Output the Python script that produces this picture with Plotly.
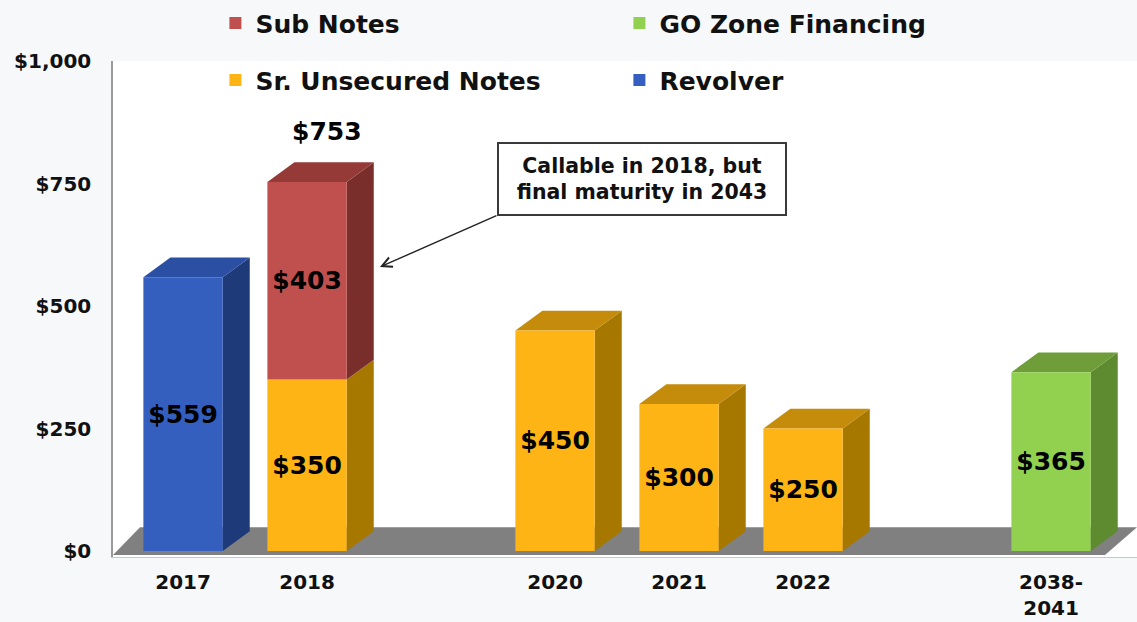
import plotly.graph_objects as go

# ---------------- data ----------------
categories = ["2017", "2018", "", "2020", "2021", "2022", "", "2038-<br>2041"]
revolver = [559, None, None, None, None, None, None, None]
sr_unsecured = [None, 350, None, 450, 300, 250, None, None]
sub_notes = [None, 403, None, None, None, None, None, None]
go_zone = [None, None, None, None, None, None, None, 365]
y_ticks = [0, 250, 500, 750, 1000]
y_tick_labels = [f"${v:,}" for v in y_ticks]
callout_text = "Callable in 2018, but<br>final maturity in 2043"

# ---------------- styling ----------------
FONT = "DejaVu Sans"
series = [
    # name, values, front, side, top, legend, rank
    ("Revolver", revolver, "#345FBE", "#1F3A78", "#2B4FA3", "legend2", 2),
    ("Sr. Unsecured Notes", sr_unsecured, "#FDB414", "#A67800", "#C48C0A", "legend2", 1),
    ("Sub Notes", sub_notes, "#C0504D", "#7A2E2C", "#953A37", "legend", 1),
    ("GO Zone Financing", go_zone, "#92D050", "#5E8B30", "#6E9D3A", "legend", 2),
]

W, H = 1137, 622
M_L, M_R, M_T, M_B = 113, 0, 55, 65
PLOT_W = W - M_L - M_R
PLOT_H = H - M_T - M_B
BAR_W = 0.64
SLOT_PX = 124
X_RANGE = [-0.565, -0.565 + PLOT_W / SLOT_PX]
Y_RANGE = [-12, 1000]
PX_PER_Y = PLOT_H / (Y_RANGE[1] - Y_RANGE[0])
DX = 27 / SLOT_PX      # depth offset in x units
DY = 20 / PX_PER_Y     # depth offset in y units

x_pos = list(range(len(categories)))

fig = go.Figure()
shapes = []

# floor
floor_front = -8
floor_back = floor_front + 28 / PX_PER_Y
fx0, fx1 = X_RANGE[0], X_RANGE[1] - 32 / SLOT_PX
shapes.append(dict(
    type="path", xref="x", yref="y", layer="below",
    path=(f"M{fx0},{floor_front} L{fx1},{floor_front} L{X_RANGE[1]},{floor_back} "
          f"L{fx0 + 27 / SLOT_PX},{floor_back} Z"),
    fillcolor="#808080", line=dict(width=0)))

base_acc = [0.0] * len(categories)
tops = [None] * len(categories)
top_color = [None] * len(categories)

for name, vals, front, side, top, leg, rank in series:
    bases = []
    for i, v in enumerate(vals):
        bases.append(base_acc[i])
        if v is not None:
            b = base_acc[i]
            t = b + v
            x1 = x_pos[i] + BAR_W / 2
            shapes.append(dict(
                type="path", xref="x", yref="y", layer="below",
                path=(f"M{x1},{b} L{x1 + DX},{b + DY} L{x1 + DX},{t + DY} L{x1},{t} Z"),
                fillcolor=side, line=dict(width=0)))
            base_acc[i] = t
            tops[i] = t
            top_color[i] = top
    fig.add_trace(go.Bar(
        name=name, x=x_pos, y=vals, base=bases, width=BAR_W,
        marker=dict(color=front, line=dict(width=0)),
        texttemplate="$%{y:.0f}", textposition="inside",
        insidetextanchor="middle", textangle=0, constraintext="none",
        textfont=dict(family=FONT, size=25, color="#000000", weight="bold"),
        legend=leg, legendrank=rank, hoverinfo="skip",
    ))

# top faces
for i, t in enumerate(tops):
    if t is None:
        continue
    x0 = x_pos[i] - BAR_W / 2
    x1 = x_pos[i] + BAR_W / 2
    shapes.append(dict(
        type="path", xref="x", yref="y", layer="below",
        path=(f"M{x0},{t} L{x0 + DX},{t + DY} L{x1 + DX},{t + DY} L{x1},{t} Z"),
        fillcolor=top_color[i], line=dict(width=0)))

annotations = []
i2018 = categories.index("2018")
total_2018 = sr_unsecured[i2018] + sub_notes[i2018]
annotations.append(dict(
    x=i2018 + DX / 2 + 0.05, y=total_2018 + DY, xref="x", yref="y",
    text=f"${total_2018}", showarrow=False, yanchor="bottom", yshift=14,
    font=dict(family=FONT, size=25, color="#000000", weight="bold")))

annotations.append(dict(
    x=3.7, y=760, xref="x", yref="y", text=callout_text, showarrow=False,
    font=dict(family=FONT, size=20.5, color="#111111", weight="bold"),
    bgcolor="#ffffff", bordercolor="#3a3a3a", borderwidth=2, borderpad=7,
    width=272, height=56, align="center"))

arrow_x = i2018 + BAR_W / 2 + DX + 0.05
arrow_y = sr_unsecured[i2018] + sub_notes[i2018] * 0.57
annotations.append(dict(
    x=arrow_x, y=arrow_y, xref="x", yref="y", text="", showarrow=True,
    ax=118, ay=-52, arrowhead=5, arrowsize=1.4, arrowwidth=1.4,
    arrowcolor="#222222", standoff=0))

legend_font = dict(family=FONT, size=25, color="#111111", weight="bold")
fig.update_layout(
    width=W, height=H,
    margin=dict(l=M_L, r=M_R, t=M_T, b=M_B),
    paper_bgcolor="#f6f8fa", plot_bgcolor="#ffffff",
    barmode="overlay",
    font=dict(family=FONT, color="#111111", weight="bold"),
    shapes=shapes, annotations=annotations,
    showlegend=True,
    legend=dict(orientation="h", x=0.1, xanchor="left", y=1.076, yanchor="middle",
                entrywidth=359, entrywidthmode="pixels", bgcolor="rgba(0,0,0,0)",
                font=legend_font, traceorder="normal"),
    legend2=dict(orientation="h", x=0.1, xanchor="left", y=0.961, yanchor="middle",
                 entrywidth=359, entrywidthmode="pixels", bgcolor="rgba(0,0,0,0)",
                 font=legend_font, traceorder="normal"),
    xaxis=dict(range=X_RANGE, tickvals=x_pos, ticktext=categories,
               showgrid=False, zeroline=False, showline=True, linecolor="#c8c8c8",
               linewidth=1, ticks="outside", ticklen=7, tickcolor="rgba(0,0,0,0)",
               tickfont=dict(family=FONT, size=20, color="#111111", weight="bold"),
               fixedrange=True),
    yaxis=dict(range=Y_RANGE, tickvals=y_ticks, ticktext=y_tick_labels,
               showgrid=False, zeroline=False, showline=True, linecolor="#9a9a9a",
               linewidth=1.5, ticks="outside", ticklen=16, tickcolor="rgba(0,0,0,0)",
               tickfont=dict(family=FONT, size=20, color="#111111", weight="bold"),
               fixedrange=True),
)

fig.write_html(
    "out.html",
    config={"displayModeBar": False},
    post_script="document.body.style.margin='0';document.body.style.padding='0';",
)
